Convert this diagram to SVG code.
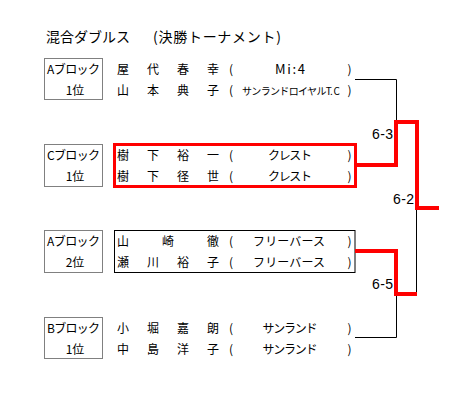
<svg xmlns="http://www.w3.org/2000/svg" width="467" height="401" viewBox="0 0 467 401">
<style>
text{font-family:"Noto Sans CJK JP","DejaVu Sans",sans-serif;fill:#000}
.t{font-size:14px}
.n{font-size:12px}
.m{font-size:12px;text-anchor:middle}
.s{font-family:"Liberation Sans","Noto Sans CJK JP",sans-serif;font-size:14px}
.lab{fill:none;stroke:#000;stroke-width:1;stroke-dasharray:1 1}
.blk{fill:none;stroke:#000;stroke-width:1}
.red{fill:none;stroke:#f00;stroke-width:4}
.redbox{fill:none;stroke:#f00;stroke-width:3}
</style>
<rect width="467" height="401" fill="#fff"/>
<g id="title">
<text class="t" x="46" y="42" textLength="84">混合ダブルス</text>
<text class="t" x="153" y="42" textLength="128">(決勝トーナメント)</text>
</g>
<g id="teamA1">
<rect class="lab" x="44.5" y="58.5" width="58" height="41"/>
<text class="n" x="47" y="74" textLength="53">Aブロック</text>
<text class="m" x="75" y="95">1位</text>
<text class="n" x="117 147 177 207" y="74">屋代春幸</text>
<text class="n" x="117 147 177 207" y="95">山本典子</text>
<text class="m" x="231" y="74">(</text><text class="m" x="349.5" y="74">)</text>
<text class="m" x="231" y="95">(</text><text class="m" x="349.5" y="95">)</text>
<text class="m" x="290" y="74" textLength="30" style="font-size:13px">Mi:4</text>
<text class="m" x="291" y="95" textLength="98" style="font-size:10px">サンランドロイヤルT. C</text>
</g>
<g id="teamC1">
<rect class="lab" x="44.5" y="144.5" width="58" height="42"/>
<text class="n" x="47" y="160" textLength="53">Cブロック</text>
<text class="m" x="75" y="181">1位</text>
<rect class="redbox" x="114.5" y="144.5" width="241" height="42"/>
<text class="n" x="117 147 177 207" y="160">樹下裕一</text>
<text class="n" x="117 147 177 207" y="181">樹下径世</text>
<text class="m" x="231" y="160">(</text><text class="m" x="349.5" y="160">)</text>
<text class="m" x="231" y="181">(</text><text class="m" x="349.5" y="181">)</text>
<text class="m" x="290" y="160" textLength="44">クレスト</text>
<text class="m" x="290" y="181" textLength="44">クレスト</text>
</g>
<g id="teamA2">
<rect class="lab" x="44.5" y="230.5" width="58" height="42"/>
<text class="n" x="47" y="246" textLength="53">Aブロック</text>
<text class="m" x="75" y="267">2位</text>
<rect class="blk" x="114.5" y="230.5" width="240.5" height="42"/>
<text class="n" x="117 162 207" y="246">山崎徹</text>
<text class="n" x="117 147 177 207" y="267">瀬川裕子</text>
<text class="m" x="231" y="246">(</text><text class="m" x="349.5" y="246">)</text>
<text class="m" x="231" y="267">(</text><text class="m" x="349.5" y="267">)</text>
<text class="m" x="289" y="246" textLength="72">フリーバース</text>
<text class="m" x="289" y="267" textLength="72">フリーバース</text>
</g>
<g id="teamB1">
<rect class="lab" x="44.5" y="317.5" width="58" height="41"/>
<text class="n" x="47" y="333" textLength="53">Bブロック</text>
<text class="m" x="75" y="354">1位</text>
<text class="n" x="117 147 177 207" y="333">小堀嘉朗</text>
<text class="n" x="117 147 177 207" y="354">中島洋子</text>
<text class="m" x="231" y="333">(</text><text class="m" x="349.5" y="333">)</text>
<text class="m" x="231" y="354">(</text><text class="m" x="349.5" y="354">)</text>
<text class="m" x="290" y="333" textLength="55">サンランド</text>
<text class="m" x="290" y="354" textLength="55">サンランド</text>
</g>
<g id="connectors">
<polyline class="blk" points="355,79.5 396.5,79.5 396.5,122"/>
<polyline class="blk" points="416.5,208 416.5,294"/>
<polyline class="blk" points="355,337.5 396.5,337.5 396.5,294"/>
<polyline class="red" points="357,165 396,165 396,122 417,122 417,208 439,208"/>
<polyline class="red" points="355,251 396,251 396,294 417,294"/>
<text class="s" x="372" y="139" textLength="21">6-3</text>
<text class="s" x="393" y="204" textLength="21">6-2</text>
<text class="s" x="372" y="289" textLength="21">6-5</text>
</g>
</svg>
